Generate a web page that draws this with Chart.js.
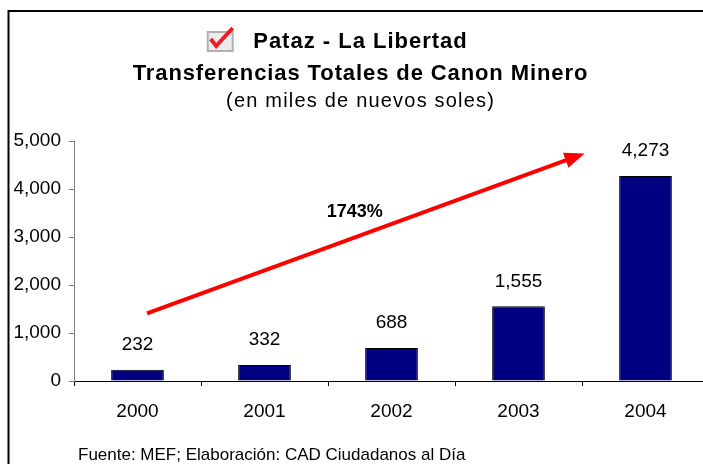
<!DOCTYPE html>
<html>
<head>
<meta charset="utf-8">
<script src="https://cdn.jsdelivr.net/npm/chart.js@4.4.1/dist/chart.umd.min.js"></script>
<style>
  html, body { margin: 0; padding: 0; background: #fff; overflow: hidden; }
  #wrap { width: 703px; height: 464px; overflow: hidden; position: relative; }
  canvas { display: block; }
</style>
</head>
<body>
<div id="wrap"><canvas id="c" width="712" height="464"></canvas></div>
<script>
// ---- data ----
const years = ['2000', '2001', '2002', '2003', '2004'];
const canon = [232, 332, 688, 1555, 4273];
const yTicks = [0, 1000, 2000, 3000, 4000, 5000];
const titleLine1 = 'Pataz - La Libertad';
const titleLine2 = 'Transferencias Totales de Canon Minero';
const subtitle = '(en miles de nuevos soles)';
const footer = 'Fuente: MEF; Elaboración: CAD Ciudadanos al Día';
const growthLabel = '1743%';
// arrow annotation in data units: [category index, value]
const arrowFrom = [0.075, 1410];
const arrowTo = [3.52, 4740];
const growthAt = [1.71, 3520];

const FONT = '"Liberation Sans", Arial, sans-serif';

function spacedText(ctx, text, x, y, font, spacing, align) {
  ctx.save();
  ctx.font = font;
  ctx.letterSpacing = spacing + 'px';
  let w = ctx.measureText(text).width;
  let sx = x;
  if (align === 'center') sx = x - (w - spacing) / 2;
  ctx.textAlign = 'left';
  ctx.fillText(text, sx, y);
  ctx.restore();
}

const decorPlugin = {
  id: 'decor',
  afterDraw(chart) {
    const ctx = chart.ctx;
    const xs = chart.scales.x, ys = chart.scales.y;
    ctx.save();
    // frame
    ctx.strokeStyle = '#000';
    ctx.lineWidth = 2;
    ctx.beginPath();
    ctx.moveTo(8.5, 464);
    ctx.lineTo(8.5, 11);
    ctx.lineTo(712, 11);
    ctx.stroke();

    // titles
    ctx.fillStyle = '#000';
    ctx.textBaseline = 'alphabetic';
    const cx = 360;
    spacedText(ctx, titleLine1, cx, 48, 'bold 22px ' + FONT, 1, 'center');
    spacedText(ctx, titleLine2, cx, 80, 'bold 22px ' + FONT, 0.9, 'center');
    spacedText(ctx, subtitle, cx, 107, '20px ' + FONT, 1.2, 'center');

    // checkbox icon
    ctx.save();
    ctx.font = 'bold 22px ' + FONT;
    ctx.letterSpacing = '1px';
    const t1w = ctx.measureText(titleLine1).width;
    ctx.restore();
    const ix = cx - t1w / 2 - 45;
    ctx.fillStyle = '#ececec';
    ctx.fillRect(ix, 32, 25, 19);
    ctx.strokeStyle = '#b0b0b0';
    ctx.lineWidth = 2;
    ctx.strokeRect(ix, 32, 25, 19);
    ctx.strokeStyle = '#ee1c25';
    ctx.lineWidth = 4;
    ctx.lineJoin = 'miter';
    ctx.beginPath();
    ctx.moveTo(ix + 3, 39);
    ctx.lineTo(ix + 8.5, 46);
    ctx.lineTo(ix + 25, 28);
    ctx.stroke();

    // value labels
    ctx.fillStyle = '#000';
    ctx.font = '19px ' + FONT;
    ctx.textAlign = 'center';
    ctx.textBaseline = 'middle';
    chart.getDatasetMeta(0).data.forEach((bar, i) => {
      ctx.fillText(canon[i].toLocaleString('en-US'), bar.x, bar.y - 25);
    });

    // arrow
    const x0 = xs.getPixelForValue(arrowFrom[0]), y0 = ys.getPixelForValue(arrowFrom[1]);
    const x1 = xs.getPixelForValue(arrowTo[0]), y1 = ys.getPixelForValue(arrowTo[1]);
    const ang = Math.atan2(y1 - y0, x1 - x0);
    const hl = 20, hw = 8;
    const bx = x1 - hl * Math.cos(ang), by = y1 - hl * Math.sin(ang);
    ctx.strokeStyle = '#ff0000';
    ctx.fillStyle = '#ff0000';
    ctx.lineWidth = 4;
    ctx.lineCap = 'butt';
    ctx.beginPath();
    ctx.moveTo(x0, y0);
    ctx.lineTo(bx + 2 * Math.cos(ang), by + 2 * Math.sin(ang));
    ctx.stroke();
    ctx.beginPath();
    ctx.moveTo(x1, y1);
    ctx.lineTo(bx - hw * Math.sin(ang), by + hw * Math.cos(ang));
    ctx.lineTo(bx + hw * Math.sin(ang), by - hw * Math.cos(ang));
    ctx.closePath();
    ctx.fill();

    // growth label
    ctx.fillStyle = '#000';
    ctx.font = 'bold 18px ' + FONT;
    ctx.textAlign = 'center';
    ctx.textBaseline = 'middle';
    ctx.fillText(growthLabel, xs.getPixelForValue(growthAt[0]), ys.getPixelForValue(growthAt[1]));

    // footer
    ctx.textAlign = 'left';
    ctx.textBaseline = 'alphabetic';
    ctx.font = '17px ' + FONT;
    ctx.fillText(footer, 78, 460);
    ctx.restore();
  }
};

new Chart(document.getElementById('c'), {
  type: 'bar',
  data: {
    labels: years,
    datasets: [{
      data: canon,
      backgroundColor: '#000080',
      borderColor: '#000000',
      borderWidth: 1,
      barPercentage: 0.415,
      categoryPercentage: 1
    }]
  },
  options: {
    responsive: false,
    devicePixelRatio: 1,
    animation: false,
    layout: { padding: { top: 141, left: 0, right: 3, bottom: 0 } },
    plugins: { legend: { display: false }, tooltip: { enabled: false }, title: { display: false } },
    scales: {
      x: {
        grid: { drawOnChartArea: false, drawTicks: true, tickLength: 5, color: '#000', offset: true },
        border: { color: '#000', width: 1 },
        ticks: { color: '#000', font: { size: 19, family: FONT }, padding: 14, maxRotation: 0 },
        afterFit(s) { s.height = 83; }
      },
      y: {
        min: 0, max: 5000,
        afterBuildTicks(s) { s.ticks = yTicks.map(v => ({ value: v })); },
        grid: { drawOnChartArea: false, drawTicks: true, tickLength: 5, color: '#808080' },
        border: { color: '#808080', width: 1 },
        ticks: {
          color: '#000', font: { size: 19, family: FONT }, padding: 8,
          callback: v => v.toLocaleString('en-US')
        },
        afterFit(s) { s.width = 74; }
      }
    }
  },
  plugins: [decorPlugin]
});
</script>
</body>
</html>
